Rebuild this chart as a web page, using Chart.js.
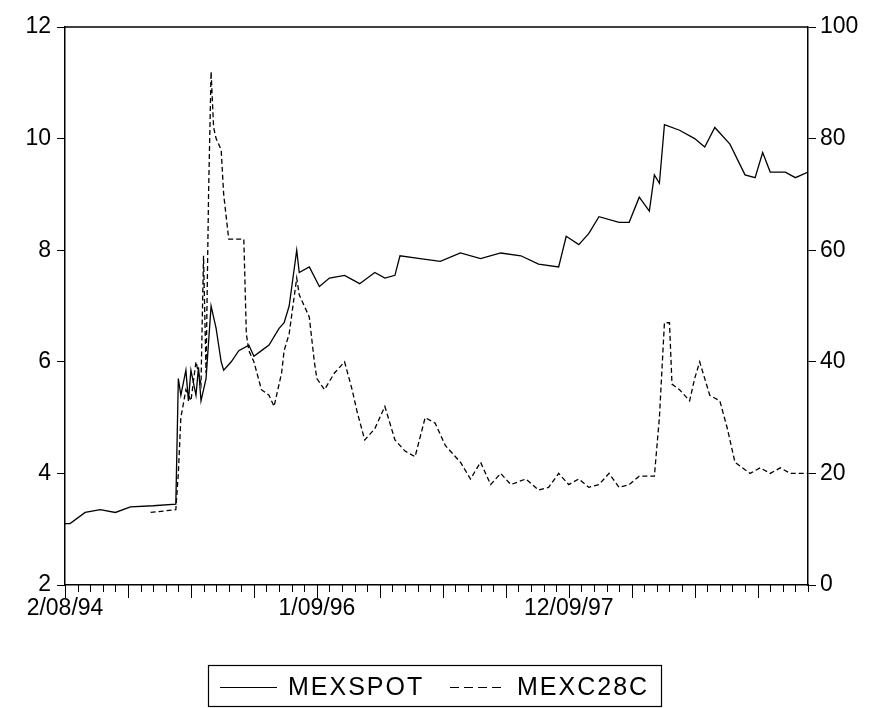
<!DOCTYPE html>
<html>
<head>
<meta charset="utf-8">
<script src="https://cdn.jsdelivr.net/npm/chart.js@4"></script>
<style>
  body { margin: 0; background: #fff; }
  #wrap { width: 882px; height: 708px; }
</style>
</head>
<body>
<div id="wrap"><canvas id="c" width="882" height="708"></canvas></div>
<script>
// weeks since 2/08/94
const spotWeeks = [0,2,8,14,20,26,35,44,45,46,48,49,50,52,53,54,56,58,60,62,63,66,69,73,75,78,81,85,87,89,92,93,97,101,105,111,117,123,127,131,133,141,149,157,165,173,181,188,196,199,204,208,212,220,224,228,232,234,236,238,244,250,254,258,264,270,274,277,280,286,290,295];
const spotValues = [3.1,3.1,3.3,3.35,3.3,3.4,3.42,3.45,5.7,5.4,5.85,5.3,5.85,5.4,5.9,5.3,5.7,7.0,6.6,6.0,5.85,6.0,6.2,6.3,6.1,6.2,6.3,6.6,6.7,7.0,8.0,7.6,7.7,7.35,7.5,7.55,7.4,7.6,7.5,7.55,7.9,7.85,7.8,7.95,7.85,7.95,7.9,7.75,7.7,8.25,8.1,8.3,8.6,8.5,8.5,8.95,8.7,9.35,9.2,10.25,10.15,10.0,9.85,10.2,9.9,9.35,9.3,9.75,9.4,9.4,9.3,9.4];
const c28Weeks = [34,44,45,46,48,50,52,54,55,56,57,58,59,60,62,63,65,71,72,73,75,78,81,83,86,87,89,92,93,95,97,99,100,103,107,111,114,116,119,123,127,131,135,139,143,147,151,157,161,165,169,173,177,183,188,192,196,200,204,208,212,216,220,224,228,234,236,238,240,241,244,248,250,252,256,260,263,266,272,276,280,284,288,295];
const c28Values = [13,13.5,20,30,35,33,40,36,59,38,70,92,82,80,78,70,62,62,45,42,40,35,34,32,38,42,45,55,52,50,48,40,37,35,38,40,35,31,26,28,32,26,24,23,30,29,25,22,19,22,18,20,18,19,17,17.5,20,18,19,17.5,18,20,17.5,18,19.5,19.5,30,47,47,36,35,33,37,40,34,33,28,22,20,21,20,21,20,20];
const tickLabels = { 0: '2/08/94', 100: '1/09/96', 200: '12/09/97' };
const lastWeek = 295;

const font = { family: 'Liberation Sans, Arial, sans-serif', size: 23 };

// frame, x tick marks and boxed legend
const eviewsBits = {
  id: 'eviewsBits',
  afterDraw(chart) {
    const ctx = chart.ctx, a = chart.chartArea, x = chart.scales.x;
    ctx.save();
    ctx.strokeStyle = '#000';
    ctx.lineWidth = 1.5;
    ctx.beginPath();
    ctx.moveTo(a.left, a.top); ctx.lineTo(a.right, a.top);
    ctx.stroke();
    ctx.lineWidth = 1;
    for (let w = 0; w <= lastWeek; w += 5) {
      const px = Math.round(x.getPixelForValue(w)) + 0.5;
      ctx.beginPath();
      ctx.moveTo(px, a.bottom);
      ctx.lineTo(px, a.bottom + (w % 25 === 0 ? 13 : 7));
      ctx.stroke();
    }
    // legend (text clipped at the box edge like the original)
    ctx.lineWidth = 1.2;
    ctx.strokeRect(208.5, 665.5, 453, 41);
    ctx.beginPath(); ctx.rect(209, 666, 452, 40); ctx.clip();
    ctx.font = '25px Liberation Sans, Arial, sans-serif';
    ctx.letterSpacing = '2px';
    ctx.fillStyle = '#000';
    ctx.textBaseline = 'middle';
    ctx.beginPath(); ctx.moveTo(220, 687.5); ctx.lineTo(277, 687.5); ctx.stroke();
    ctx.fillText('MEXSPOT', 288, 688);
    ctx.setLineDash([9, 5]);
    ctx.beginPath(); ctx.moveTo(450, 687.5); ctx.lineTo(503, 687.5); ctx.stroke();
    ctx.setLineDash([]);
    ctx.fillText('MEXC28C', 517, 688);
    ctx.restore();
  }
};

new Chart(document.getElementById('c'), {
  type: 'line',
  data: {
    datasets: [{
      label: 'MEXSPOT',
      data: spotWeeks.map((w, i) => ({ x: w, y: spotValues[i] })),
      borderColor: '#000', borderWidth: 1.3, pointRadius: 0, tension: 0,
      yAxisID: 'y'
    }, {
      label: 'MEXC28C',
      data: c28Weeks.map((w, i) => ({ x: w, y: c28Values[i] })),
      borderColor: '#000', borderWidth: 1.3, borderDash: [5, 3], pointRadius: 0, tension: 0,
      yAxisID: 'y1'
    }]
  },
  options: {
    responsive: false,
    animation: false,
    layout: { padding: { top: 27, right: 0, left: 0, bottom: 0 } },
    plugins: { legend: { display: false }, tooltip: { enabled: false } },
    scales: {
      x: {
        type: 'linear', min: 0, max: lastWeek,
        afterBuildTicks: s => { s.ticks = [0, 100, 200].map(v => ({ value: v })); },
        afterFit: s => { s.height = 123; },
        grid: { display: false, drawOnChartArea: false },
        border: { display: true, color: '#000', width: 1.5 },
        ticks: {
          color: '#000', font: font, maxRotation: 0, autoSkip: false, padding: 2,
          callback: v => tickLabels[v] || ''
        }
      },
      y: {
        position: 'left', min: 2, max: 12,
        afterFit: s => { s.width = 65; },
        grid: { drawOnChartArea: false, tickLength: 8, color: '#000' },
        border: { display: true, color: '#000', width: 1.5 },
        ticks: { color: '#000', font: font, stepSize: 2, padding: 6 }
      },
      y1: {
        position: 'right', min: 0, max: 100,
        afterFit: s => { s.width = 74; },
        grid: { drawOnChartArea: false, tickLength: 8, color: '#000' },
        border: { display: true, color: '#000', width: 1.5 },
        ticks: { color: '#000', font: font, stepSize: 20, padding: 4 }
      }
    }
  },
  plugins: [eviewsBits]
});
</script>
</body>
</html>
